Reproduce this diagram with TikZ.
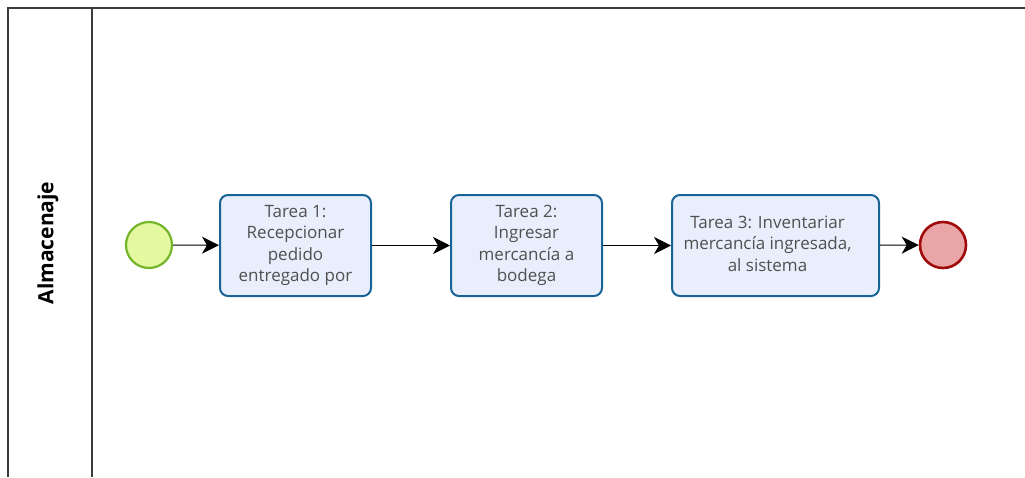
\documentclass[tikz,border=0pt]{standalone}
\usepackage{fontspec}
\setmainfont{Open Sans}
\usepackage{tikz}
\usetikzlibrary{positioning,calc}
\usetikzlibrary{arrows.meta}
\definecolor{LaneLine}{RGB}{60,60,60}
\definecolor{TaskBlue}{RGB}{25,100,150}
\definecolor{TaskFill}{RGB}{232,238,252}
\definecolor{StartGreen}{RGB}{115,180,40}
\definecolor{StartFill}{RGB}{228,248,160}
\definecolor{EndRed}{RGB}{160,10,10}
\definecolor{EndFill}{RGB}{234,166,166}
\definecolor{TextGray}{RGB}{80,80,80}
\tikzset{
  lane/.style={draw=LaneLine,line width=1.4pt},
  task/.style={draw=TaskBlue,fill=TaskFill,rounded corners=8pt,line width=2pt,
    minimum width=151pt,minimum height=101pt,text=TextGray,align=center,
    font=\fontsize{17}{21.5}\selectfont},
  startev/.style={circle,draw=StartGreen,fill=StartFill,line width=2.2pt,minimum size=46pt,inner sep=0pt},
  endev/.style={circle,draw=EndRed,fill=EndFill,line width=2.6pt,minimum size=46pt,inner sep=0pt},
  flow/.style={draw=black,line width=1.1pt,-{Stealth[length=17pt,width=17pt,inset=5pt]}},
}

\begin{document}
\begin{tikzpicture}[x=1pt,y=-1pt]
\useasboundingbox (0,0) rectangle (1025,477);
% pool and lane header
\draw[lane] (1025,8) -- (8,8) -- (8,477);
\draw[lane] (92,8) -- (92,477);
\node[rotate=90,font=\bfseries\fontsize{21}{24}\selectfont] (lanename) at (48,243) {Almacenaje};
% events and tasks
\node[startev] (start) at (149,245) {};
\node[task] (t1) at (295.5,245.5) {Tarea 1:\\Recepcionar\\pedido\\entregado por};
\node[task] (t2) at (526.5,245.5) {Tarea 2:\\Ingresar\\mercancía a\\bodega};
\node[task,minimum width=207pt] (t3) at (775.5,245.5) {\hspace*{-16pt}\begin{tabular}{@{}c@{}}Tarea 3: Inventariar\\mercancía ingresada,\\al sistema\end{tabular}};
\node[endev] (fin) at (943,245) {};
% sequence flows
\draw[flow] (start) -- (t1);
\draw[flow] (t1) -- (t2);
\draw[flow] (t2) -- (t3);
\draw[flow] (t3) -- (fin);
\end{tikzpicture}
\end{document}
